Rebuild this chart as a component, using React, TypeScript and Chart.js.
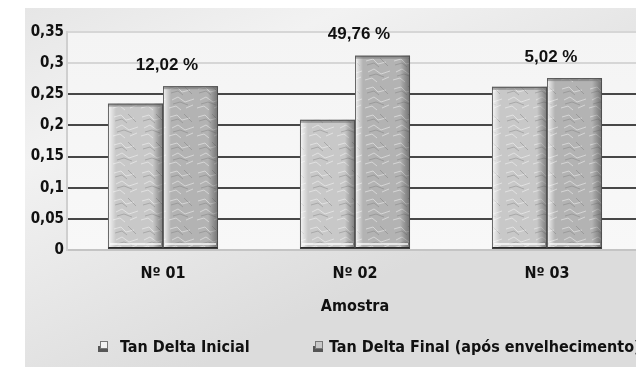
import React, { useEffect, useRef } from "react";
import { Chart, registerables } from "chart.js";

Chart.register(...registerables);

const categories = ["Nº 01", "Nº 02", "Nº 03"];
const seriesNames = ["Tan Delta Inicial", "Tan Delta Final (após envelhecimento)"];
const tanDeltaInicial = [0.235, 0.209, 0.262];
const tanDeltaFinal = [0.263, 0.312, 0.276];
const variationLabels = ["12,02 %", "49,76 %", "5,02 %"];
const axisTitle = "Amostra";

const COND = "'Liberation Sans Narrow', 'DejaVu Sans Condensed', 'Roboto Condensed', 'Liberation Sans', sans-serif";
const BOLD = "'Liberation Sans', Arial, sans-serif";

function makeTexture(base: string): CanvasPattern | string {
  const c = document.createElement("canvas");
  c.width = 28;
  c.height = 28;
  const x = c.getContext("2d");
  if (!x) return base;
  x.fillStyle = base;
  x.fillRect(0, 0, 28, 28);
  x.strokeStyle = "rgba(255,255,255,0.45)";
  x.lineWidth = 1;
  x.beginPath();
  x.moveTo(2, 5); x.lineTo(9, 3); x.lineTo(14, 8); x.lineTo(22, 6);
  x.moveTo(4, 16); x.lineTo(10, 13); x.lineTo(17, 18); x.lineTo(26, 15);
  x.moveTo(1, 24); x.lineTo(8, 22); x.lineTo(13, 26);
  x.moveTo(18, 24); x.lineTo(25, 21);
  x.stroke();
  x.strokeStyle = "rgba(110,110,110,0.35)";
  x.beginPath();
  x.moveTo(3, 9); x.lineTo(10, 7); x.lineTo(15, 11);
  x.moveTo(16, 2); x.lineTo(24, 10);
  x.moveTo(5, 20); x.lineTo(12, 18); x.lineTo(20, 21);
  x.stroke();
  const p = x.createPattern(c, "repeat");
  return p || base;
}

const decorPlugin = {
  id: "decor",
  beforeDraw(chart: any) {
    const { ctx, width, height, chartArea } = chart;
    ctx.save();
    ctx.fillStyle = "#ffffff";
    ctx.fillRect(0, 0, width, height);
    const g = ctx.createLinearGradient(25, 8, 200, height);
    g.addColorStop(0, "#e6e6e6");
    g.addColorStop(0.35, "#f2f2f2");
    g.addColorStop(1, "#dcdcdc");
    ctx.fillStyle = g;
    ctx.fillRect(25, 8, width - 25, height - 8);
    const pg = ctx.createLinearGradient(0, chartArea.top, 0, chartArea.bottom);
    pg.addColorStop(0, "#f4f4f4");
    pg.addColorStop(1, "#f8f8f8");
    ctx.fillStyle = pg;
    ctx.fillRect(chartArea.left, chartArea.top, chartArea.right - chartArea.left, chartArea.bottom - chartArea.top);
    ctx.restore();
  },
  afterDatasetsDraw(chart: any) {
    const { ctx } = chart;
    ctx.save();
    chart.data.datasets.forEach((_ds: any, di: number) => {
      const meta = chart.getDatasetMeta(di);
      meta.data.forEach((bar: any) => {
        const left = bar.x - bar.width / 2;
        const right = bar.x + bar.width / 2;
        const top = bar.y;
        const bottom = bar.base;
        const w = right - left;
        const lg = ctx.createLinearGradient(left, 0, left + 8, 0);
        lg.addColorStop(0, "rgba(255,255,255,0.85)");
        lg.addColorStop(1, "rgba(255,255,255,0)");
        ctx.fillStyle = lg;
        ctx.fillRect(left, top, 8, bottom - top);
        const rg = ctx.createLinearGradient(right - 10, 0, right, 0);
        rg.addColorStop(0, "rgba(60,60,60,0)");
        rg.addColorStop(1, "rgba(60,60,60,0.55)");
        ctx.fillStyle = rg;
        ctx.fillRect(right - 10, top, 10, bottom - top);
        ctx.fillStyle = "rgba(120,120,120,0.6)";
        ctx.fillRect(left, top, w, 3);
        ctx.fillStyle = "#2a2a2a";
        ctx.fillRect(left, bottom - 2, w, 2);
        ctx.fillStyle = "rgba(255,255,255,0.7)";
        ctx.fillRect(left + 2, bottom - 6, w - 4, 2);
        ctx.strokeStyle = "rgba(70,70,70,0.8)";
        ctx.lineWidth = 1;
        ctx.strokeRect(left + 0.5, top + 0.5, w - 1, bottom - top - 1);
      });
    });

    const xs = chart.scales.x;
    const ys = chart.scales.y;
    ctx.fillStyle = "#111";
    ctx.font = "bold 17px " + BOLD;
    ctx.textAlign = "center";
    ctx.textBaseline = "middle";
    categories.forEach((_c, i) => {
      const maxV = Math.max(tanDeltaInicial[i], tanDeltaFinal[i]);
      const x = xs.getPixelForValue(i) + 4;
      const y = ys.getPixelForValue(maxV) - 21;
      ctx.fillText(variationLabels[i], x, y);
    });

    const legendY = 348;
    const items = [
      { icon: 98, text: 120 },
      { icon: 313, text: 329 },
    ];
    ctx.font = "bold 16px " + COND;
    ctx.textAlign = "left";
    items.forEach((it, i) => {
      ctx.fillStyle = "rgba(40,40,40,0.75)";
      ctx.fillRect(it.icon, legendY - 2, 10, 6);
      ctx.fillStyle = i === 0 ? "#f2f2f2" : "#c8c8c8";
      ctx.fillRect(it.icon + 2, legendY - 7, 8, 8);
      ctx.strokeStyle = "#777";
      ctx.strokeRect(it.icon + 2.5, legendY - 6.5, 7, 7);
      ctx.fillStyle = "#111";
      ctx.fillText(seriesNames[i], it.text, legendY);
    });
    ctx.restore();
  },
};

export default function App() {
  const ref = useRef<HTMLCanvasElement | null>(null);
  useEffect(() => {
    if (!ref.current) return;
    const chart = new Chart(ref.current, {
      type: "bar",
      data: {
        labels: categories,
        datasets: [
          {
            label: seriesNames[0],
            data: tanDeltaInicial,
            backgroundColor: makeTexture("#c8c8c8"),
            borderWidth: 0,
            barPercentage: 1,
            categoryPercentage: 0.573,
          },
          {
            label: seriesNames[1],
            data: tanDeltaFinal,
            backgroundColor: makeTexture("#b3b3b3"),
            borderWidth: 0,
            barPercentage: 1,
            categoryPercentage: 0.573,
          },
        ],
      },
      options: {
        animation: false,
        responsive: true,
        maintainAspectRatio: false,
        layout: { padding: { top: 32, right: 17, bottom: 51, left: 0 } },
        plugins: {
          legend: { display: false },
          tooltip: { enabled: false },
        },
        scales: {
          x: {
            grid: { display: false },
            border: { display: false },
            ticks: {
              color: "#111",
              font: { family: COND, size: 16, weight: "bold" },
              padding: 6,
            },
            title: {
              display: true,
              text: axisTitle,
              color: "#111",
              font: { family: COND, size: 16, weight: "bold" },
              padding: { top: 0, bottom: 0 },
            },
            afterFit: (s: any) => {
              s.height = 66;
            },
          },
          y: {
            min: 0,
            max: 0.35,
            ticks: {
              stepSize: 0.05,
              color: "#111",
              font: { family: COND, size: 15, weight: "bold" },
              padding: 3,
              callback: (v: any) => String(Number(Number(v).toFixed(2))).replace(".", ","),
            },
            grid: {
              drawTicks: false,
              lineWidth: 2,
              color: (c: any) => {
                const v = c.tick ? c.tick.value : 0;
                if (v > 0.26) return "#d6d6d6";
                if (v < 0.01) return "#c4c4c4";
                return "#474747";
              },
            },
            border: { display: true, color: "#cfcfcf", width: 2 },
            afterFit: (s: any) => {
              s.width = 67;
            },
          },
        },
      },
      plugins: [decorPlugin],
    });
    return () => chart.destroy();
  }, []);

  return (
    <div style={{ position: "fixed", left: 0, top: 0, width: 636, height: 367, overflow: "hidden" }}>
      <div style={{ position: "relative", width: 660, height: 367 }}>
        <canvas ref={ref} />
      </div>
    </div>
  );
}
